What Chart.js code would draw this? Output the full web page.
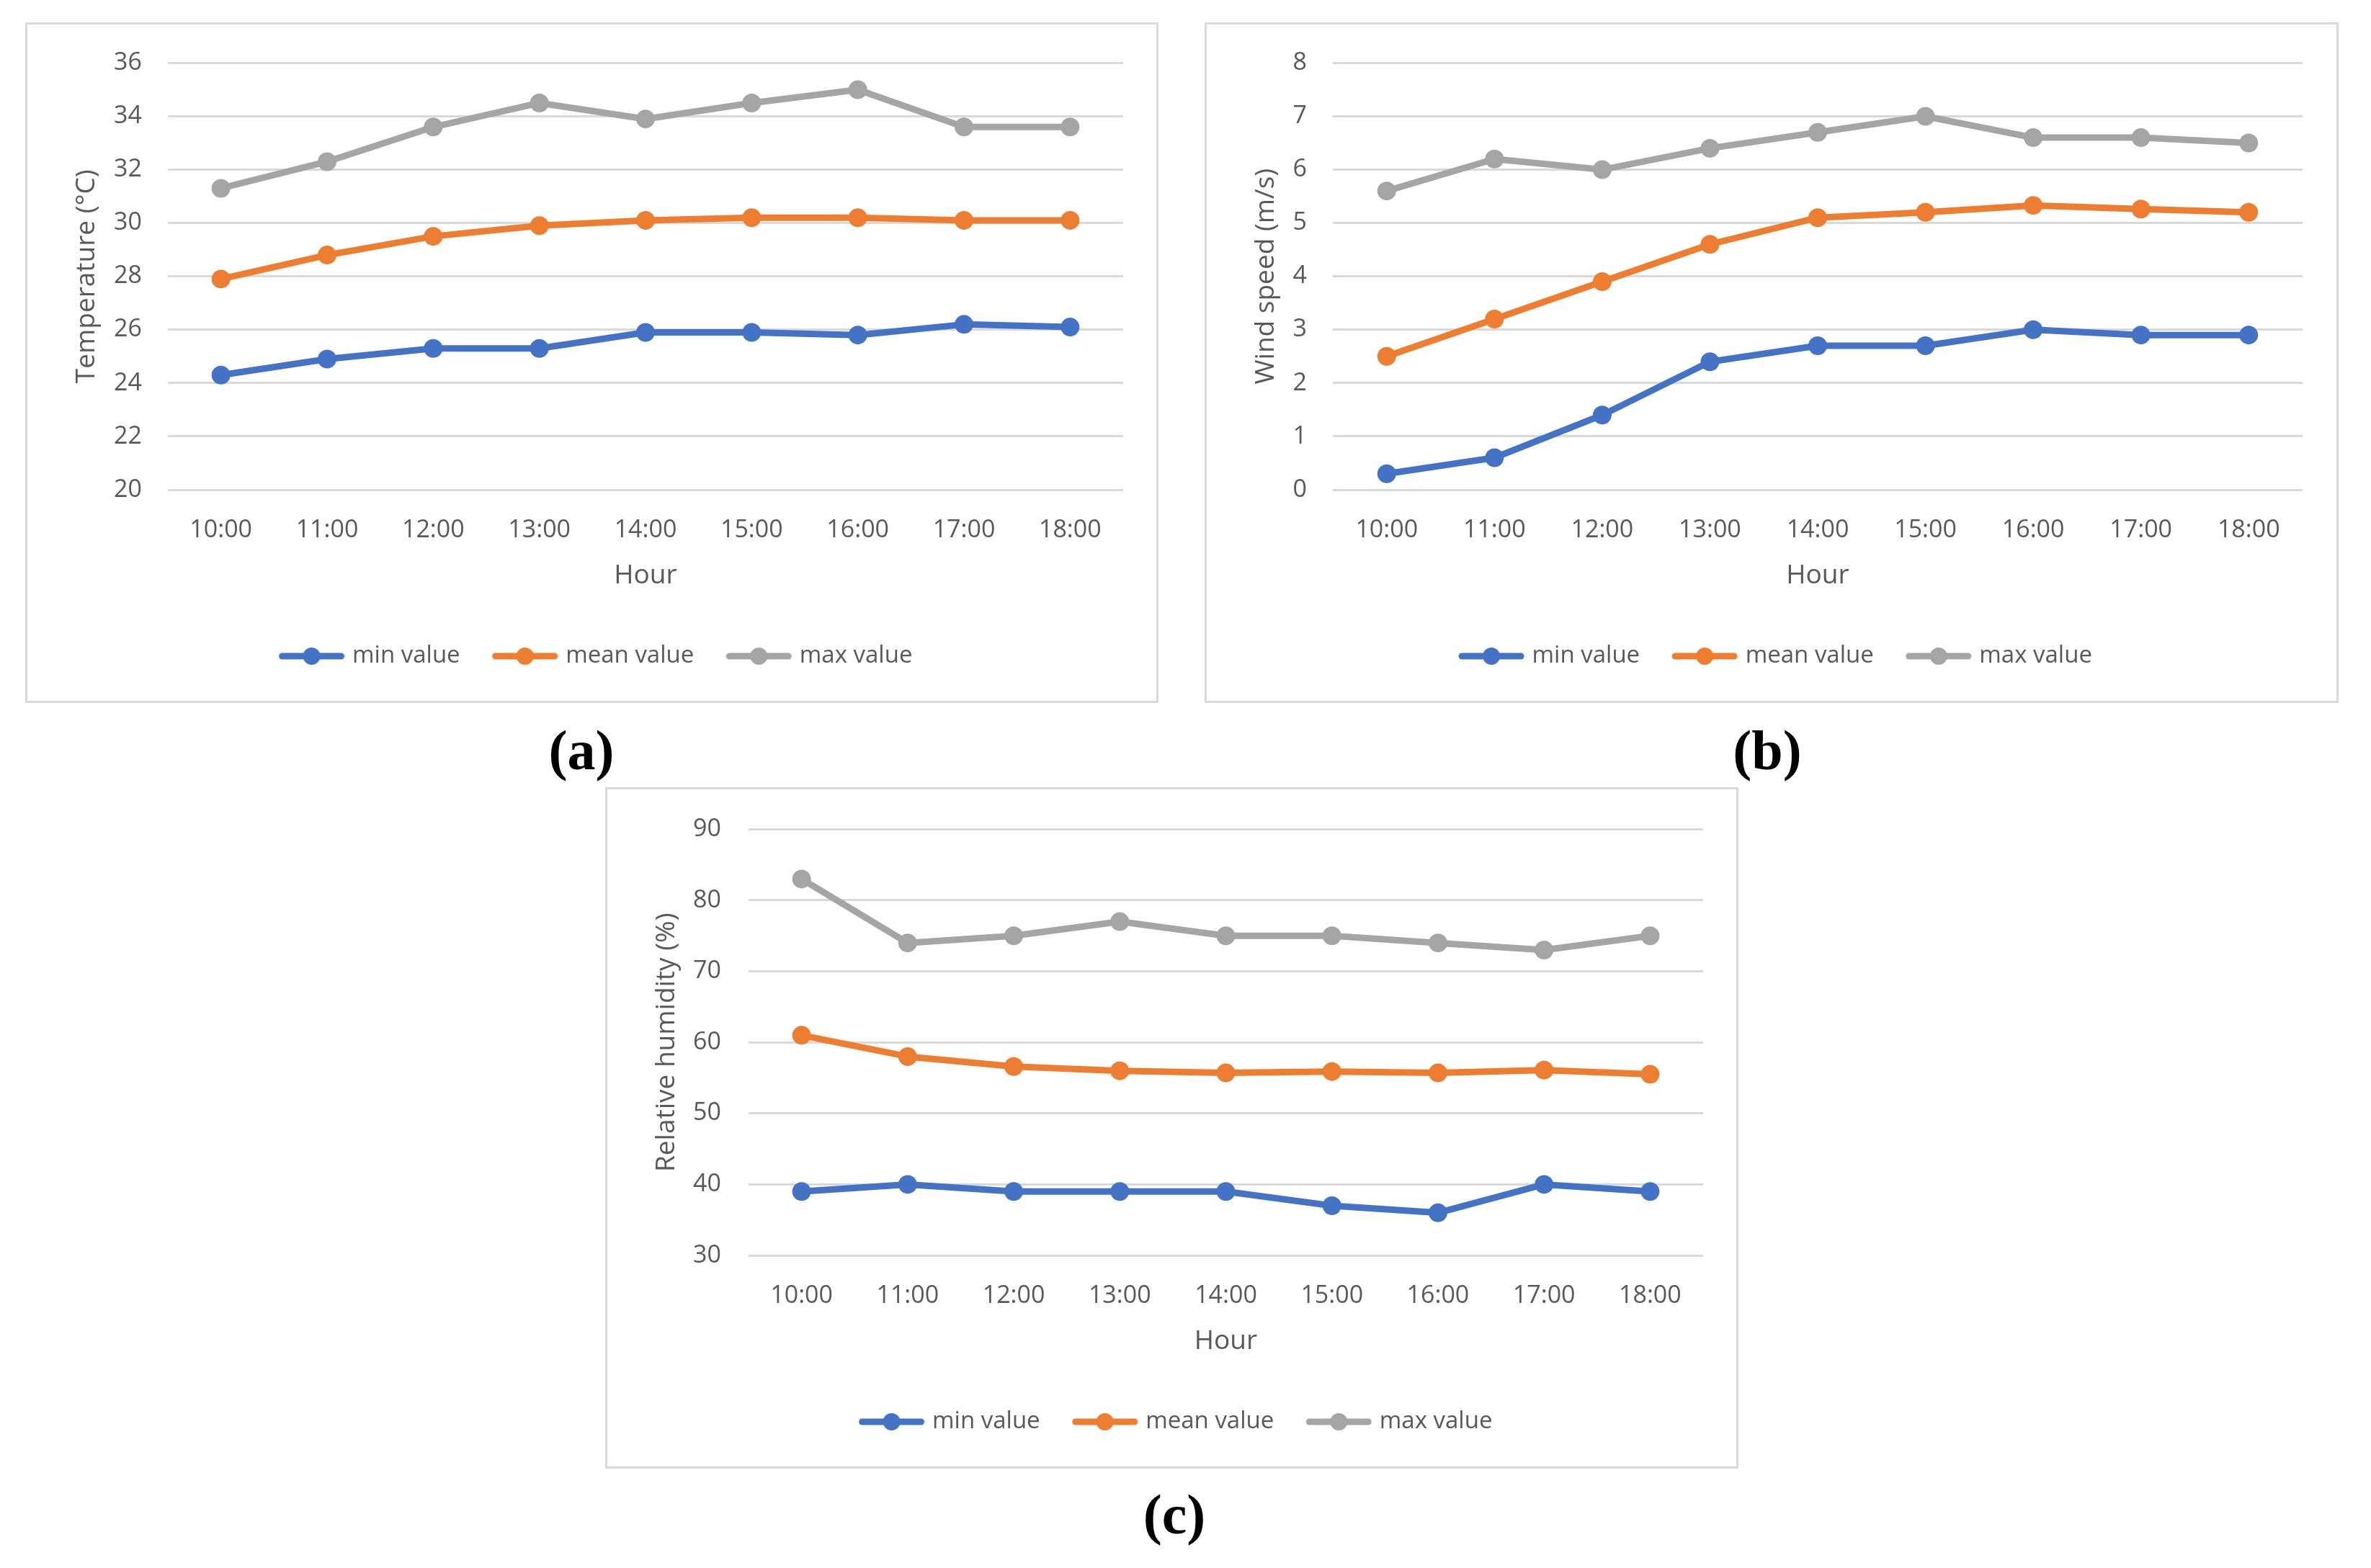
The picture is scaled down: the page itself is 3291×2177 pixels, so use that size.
<!DOCTYPE html>
<html>
<head>
<meta charset="utf-8">
<script src="https://cdn.jsdelivr.net/npm/chart.js@4.4.1/dist/chart.umd.min.js"></script>
<style>
  html, body { margin: 0; padding: 0; background: #fff; }
  body { width: 3291px; height: 2177px; position: relative; overflow: hidden; }
  .panel { position: absolute; }
  .panel canvas { display: block; }
  .tag {
    position: absolute; color: #000;
    font-family: "Liberation Serif", "DejaVu Serif", serif; font-weight: bold;
    font-size: 78px; line-height: 1; transform: translate(-50%, -50%);
  }
</style>
</head>
<body>
<div class="panel" style="left:35px;top:31px"><canvas id="chartA" width="1573" height="945"></canvas></div>
<div class="panel" style="left:1672px;top:31px"><canvas id="chartB" width="1574" height="945"></canvas></div>
<div class="panel" style="left:840px;top:1093px"><canvas id="chartC" width="1573" height="946"></canvas></div>
<div class="tag" style="left:807px;top:1042px">(a)</div>
<div class="tag" style="left:2453px;top:1042px">(b)</div>
<div class="tag" style="left:1630px;top:2103px">(c)</div>

<script>
// hours on the x axis
var hours = ['10:00', '11:00', '12:00', '13:00', '14:00', '15:00', '16:00', '17:00', '18:00'];
var seriesNames = ['min value', 'mean value', 'max value'];

// (a) temperature
var tempMin  = [24.3, 24.9, 25.3, 25.3, 25.9, 25.9, 25.8, 26.2, 26.1];
var tempMean = [27.9, 28.8, 29.5, 29.9, 30.1, 30.2, 30.2, 30.1, 30.1];
var tempMax  = [31.3, 32.3, 33.6, 34.5, 33.9, 34.5, 35.0, 33.6, 33.6];
var tempTicks = [20, 22, 24, 26, 28, 30, 32, 34, 36];

// (b) wind speed
var windMin  = [0.3, 0.6, 1.4, 2.4, 2.7, 2.7, 3.0, 2.9, 2.9];
var windMean = [2.5, 3.2, 3.9, 4.6, 5.1, 5.2, 5.33, 5.26, 5.2];
var windMax  = [5.6, 6.2, 6.0, 6.4, 6.7, 7.0, 6.6, 6.6, 6.5];
var windTicks = [0, 1, 2, 3, 4, 5, 6, 7, 8];

// (c) relative humidity
var humMin  = [39, 40, 39, 39, 39, 37, 36, 40, 39];
var humMean = [61, 58, 56.6, 56, 55.7, 55.9, 55.7, 56.1, 55.5];
var humMax  = [83, 74, 75, 77, 75, 75, 74, 73, 75];
var humTicks = [30, 40, 50, 60, 70, 80, 90];

var colors = ['#4472C4', '#ED7D31', '#A5A5A5'];
var textColor = '#595959';
var gridColor = '#d9d9d9';

function legendIcon(color) {
    var c = document.createElement('canvas');
    c.width = 92;
    c.height = 28;
    var g = c.getContext('2d');
    g.strokeStyle = color;
    g.lineWidth = 9;
    g.lineCap = 'round';
    g.beginPath();
    g.moveTo(5, 14);
    g.lineTo(87, 14);
    g.stroke();
    g.fillStyle = color;
    g.beginPath();
    g.arc(46, 14, 12, 0, Math.PI * 2);
    g.fill();
    return c;
}
var icons = colors.map(legendIcon);

// white background + light gray frame
var framePlugin = {
    id: 'frame',
    beforeDraw: function(chart) {
        var ctx = chart.ctx;
        ctx.save();
        ctx.fillStyle = '#fff';
        ctx.fillRect(0, 0, chart.width, chart.height);
        ctx.strokeStyle = gridColor;
        ctx.lineWidth = 3;
        ctx.strokeRect(1.5, 1.5, chart.width - 3, chart.height - 3);
        ctx.restore();
    }
};

function makeChart(id, series, ticks, yTitle, yWidth, yPad, rightWidth, topPad) {
    var datasets = series.map(function(values, i) {
        return {
            label: seriesNames[i],
            data: values,
            borderColor: colors[i],
            backgroundColor: colors[i],
            pointBackgroundColor: colors[i],
            pointBorderColor: colors[i],
            borderWidth: 9,
            pointRadius: 13,
            pointBorderWidth: 0,
            pointHoverRadius: 13,
            borderCapStyle: 'round',
            borderJoinStyle: 'round',
            tension: 0,
            fill: false
        };
    });

    return new Chart(document.getElementById(id), {
        type: 'line',
        data: { labels: hours, datasets: datasets },
        plugins: [framePlugin],
        options: {
            responsive: false,
            animation: false,
            devicePixelRatio: 1,
            layout: { padding: { left: 16, right: 0, top: topPad, bottom: 38.5 } },
            scales: {
                x: {
                    offset: true,
                    grid: { display: false },
                    border: { display: false },
                    ticks: {
                        color: textColor,
                        font: { family: 'Open Sans', size: 34 },
                        padding: 28,
                        maxRotation: 0,
                        autoSkip: false
                    },
                    title: {
                        display: true,
                        text: 'Hour',
                        color: textColor,
                        font: { family: 'Open Sans', size: 37 },
                        padding: { top: 23, bottom: 23 }
                    },
                    afterFit: function(s) { s.height = 164.5; }
                },
                y: {
                    min: ticks[0],
                    max: ticks[ticks.length - 1],
                    grid: { color: gridColor, lineWidth: 3, drawTicks: false },
                    border: { display: false },
                    ticks: {
                        stepSize: ticks[1] - ticks[0],
                        color: textColor,
                        font: { family: 'Open Sans', size: 34 },
                        padding: yPad
                    },
                    title: {
                        display: true,
                        text: yTitle,
                        color: textColor,
                        font: { family: 'Open Sans', size: 37 },
                        padding: { top: 47, bottom: 0 }
                    },
                    afterFit: function(s) { s.width = yWidth; }
                },
                y2: {
                    position: 'right',
                    grid: { display: false },
                    border: { display: false },
                    ticks: { display: false },
                    afterFit: function(s) { s.width = rightWidth; }
                }
            },
            plugins: {
                tooltip: { enabled: false },
                legend: {
                    position: 'bottom',
                    labels: {
                        color: textColor,
                        font: { family: 'Open Sans', size: 33 },
                        usePointStyle: true,
                        pointStyleWidth: 80,
                        padding: 50,
                        generateLabels: function(chart) {
                            var items = Chart.defaults.plugins.legend.labels.generateLabels(chart);
                            items.forEach(function(it, i) { it.pointStyle = icons[i]; });
                            return items;
                        }
                    }
                }
            }
        }
    });
}

makeChart('chartA', [tempMin, tempMean, tempMax], tempTicks, 'Temperature (°C)', 182, 36, 49, 48);
makeChart('chartB', [windMin, windMean, windMax], windTicks, 'Wind speed (m/s)', 162, 36, 50, 48);
makeChart('chartC', [humMin, humMean, humMax], humTicks, 'Relative humidity (%)', 183, 38, 49, 47);
</script>
</body>
</html>
